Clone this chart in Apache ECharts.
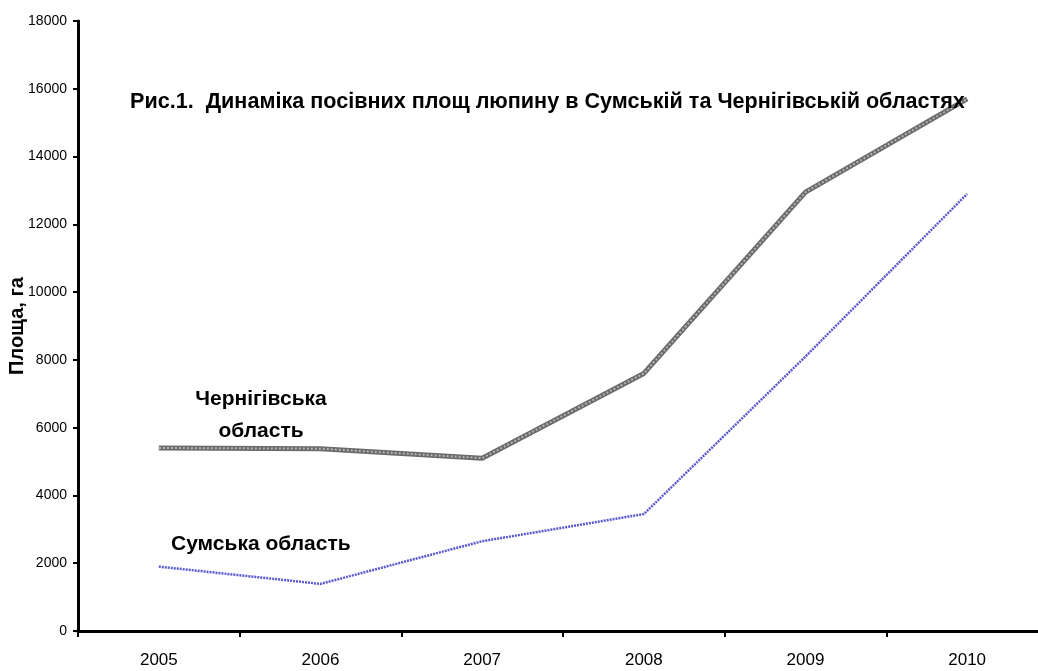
<!DOCTYPE html>
<html>
<head>
<meta charset="utf-8">
<script src="https://cdn.jsdelivr.net/npm/echarts@6/dist/echarts.min.js"></script>
<style>
  html, body { margin: 0; padding: 0; background: #fff; }
  #chart { width: 1038px; height: 671px; }
</style>
</head>
<body>
<div id="chart"></div>
<script>
const years = ["2005", "2006", "2007", "2008", "2009", "2010"];
const chernihiv = [5400, 5380, 5100, 7600, 12950, 15700];
const sumy = [1900, 1390, 2650, 3450, 8100, 12900];
const yTicks = { min: 0, max: 18000, interval: 2000 };

const font = "Liberation Sans, Arial, sans-serif";

const myChart = echarts.init(document.getElementById("chart"));
const option = {
  animation: false,
  grid: {
    left: 78,
    width: 970,
    top: 21,
    bottom: 40,
    containLabel: false,
    outerBoundsMode: "none",
  },
  title: {
    text: "Рис.1.  Динаміка посівних площ люпину в Сумській та Чернігівській областях",
    left: 130,
    top: 91,
    padding: 0,
    textStyle: {
      fontFamily: font,
      fontSize: 21.6,
      fontWeight: "bold",
      color: "#000",
    },
  },
  xAxis: {
    type: "category",
    data: years,
    boundaryGap: true,
    axisLine: { lineStyle: { color: "#000", width: 3 } },
    axisTick: { show: true, length: 6, lineStyle: { color: "#000", width: 2 } },
    axisLabel: {
      fontFamily: font,
      fontSize: 17,
      color: "#000",
      margin: 21,
    },
  },
  yAxis: {
    type: "value",
    min: yTicks.min,
    max: yTicks.max,
    interval: yTicks.interval,
    name: "Площа, га",
    nameLocation: "middle",
    nameGap: 51,
    nameMoveOverlap: false,
    nameTextStyle: {
      fontFamily: font,
      fontSize: 20,
      fontWeight: "bold",
      color: "#000",
    },
    splitLine: { show: false },
    axisLine: { show: true, lineStyle: { color: "#000", width: 3 } },
    axisTick: { show: true, length: 5, lineStyle: { color: "#000", width: 2 } },
    axisLabel: {
      fontFamily: font,
      fontSize: 14,
      color: "#000",
      margin: 11,
      formatter: function (v) { return String(v); },
    },
  },
  graphic: [
    {
      type: "text",
      x: 261,
      y: 399,
      style: {
        text: "Чернігівська",
        font: "bold 21px " + font,
        fill: "#000",
        align: "center",
        verticalAlign: "middle",
      },
    },
    {
      type: "text",
      x: 261,
      y: 431,
      style: {
        text: "область",
        font: "bold 21px " + font,
        fill: "#000",
        align: "center",
        verticalAlign: "middle",
      },
    },
    {
      type: "text",
      x: 171,
      y: 544,
      style: {
        text: "Сумська область",
        font: "bold 21px " + font,
        fill: "#000",
        align: "left",
        verticalAlign: "middle",
      },
    },
  ],
  series: [
    {
      name: "Чернігівська область",
      type: "line",
      data: chernihiv,
      showSymbol: false,
      lineStyle: { color: "#6a6a6a", width: 5 },
      z: 2,
    },
    {
      name: "Чернігівська область (inner)",
      type: "line",
      data: chernihiv,
      showSymbol: false,
      lineStyle: { color: "#b4b4b4", width: 2, type: "dotted" },
      z: 3,
    },
    {
      name: "Сумська область",
      type: "line",
      data: sumy,
      showSymbol: false,
      lineStyle: { color: "#5a5ad0", width: 2.5, type: [2, 1] },
      z: 2,
    },
  ],
};
myChart.setOption(option);
</script>
</body>
</html>
